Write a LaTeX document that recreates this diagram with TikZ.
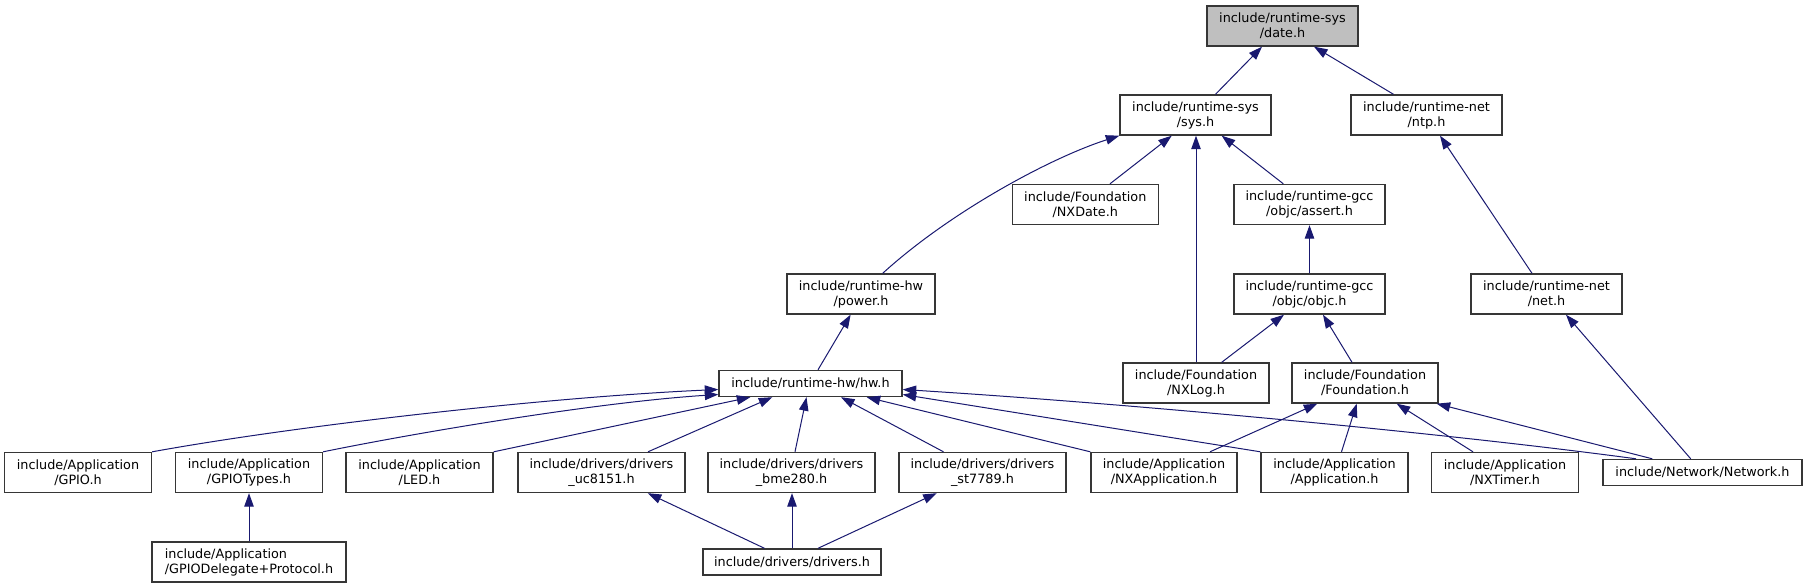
\documentclass[tikz,border=0pt]{standalone}
\usepackage{fontspec}
\setmainfont{DejaVu Sans}
\usetikzlibrary{arrows.meta}
\definecolor{bord}{HTML}{363636}
\definecolor{edgecol}{HTML}{191970}
\definecolor{rootfill}{HTML}{BFBFBF}
\newcommand{\nodefont}{\fontsize{12.8}{15}\selectfont}
\begin{document}
\begin{tikzpicture}[x=1pt,y=-1pt,
  nbox/.style={draw=bord, line width=1.4pt, fill=white, inner sep=0pt, align=center, font=\nodefont},
  twoline/.style={minimum height=40pt},
  oneline/.style={minimum height=26pt},
  rootbox/.style={fill=rootfill},
  link/.style={draw=edgecol, line width=1pt, -{Triangle[length=13.5pt,width=9.5pt]}}]
\fill[white] (0,0) rectangle (1807,588);
\useasboundingbox (0,0) rectangle (1807,588);
% rank 0
\node[nbox,twoline,rootbox,minimum width=151pt] (date) at (1282.5,26) {include/runtime-sys\\/date.h};
% rank 1
\node[nbox,twoline,minimum width=151pt] (sys) at (1195.5,115) {include/runtime-sys\\/sys.h};
\node[nbox,twoline,minimum width=151pt] (ntp) at (1426.5,115) {include/runtime-net\\/ntp.h};
% rank 2
\node[nbox,twoline,minimum width=146pt] (nxdate) at (1085.3,204.5) {include/Foundation\\/NXDate.h};
\node[nbox,twoline,minimum width=151pt] (assert) at (1309.5,204.5) {include/runtime-gcc\\/objc/assert.h};
% rank 3
\node[nbox,twoline,minimum width=148pt] (power) at (861,294) {include/runtime-hw\\/power.h};
\node[nbox,twoline,minimum width=151pt] (objc) at (1309.5,294) {include/runtime-gcc\\/objc/objc.h};
\node[nbox,twoline,minimum width=151pt] (net) at (1546.5,294) {include/runtime-net\\/net.h};
% rank 4
\node[nbox,oneline,minimum width=183pt] (hw) at (810.5,383.5) {include/runtime-hw/hw.h};
\node[nbox,twoline,minimum width=146pt] (nxlog) at (1196,383) {include/Foundation\\/NXLog.h};
\node[nbox,twoline,minimum width=146pt] (foundation) at (1365,383) {include/Foundation\\/Foundation.h};
% rank 5
\node[nbox,twoline,minimum width=147pt] (gpio) at (78,472.5) {include/Application\\/GPIO.h};
\node[nbox,twoline,minimum width=147pt] (gpiotypes) at (249,472.5) {include/Application\\/GPIOTypes.h};
\node[nbox,twoline,minimum width=147pt] (led) at (419.5,472.5) {include/Application\\/LED.h};
\node[nbox,twoline,minimum width=167pt] (uc) at (601.5,472.5) {include/drivers/drivers\\\_uc8151.h};
\node[nbox,twoline,minimum width=167pt] (bme) at (791.5,472.5) {include/drivers/drivers\\\_bme280.h};
\node[nbox,twoline,minimum width=167pt] (st) at (982.5,472.5) {include/drivers/drivers\\\_st7789.h};
\node[nbox,twoline,minimum width=146pt] (nxapp) at (1164,472.5) {include/Application\\/NXApplication.h};
\node[nbox,twoline,minimum width=147pt] (app) at (1334.5,472.5) {include/Application\\/Application.h};
\node[nbox,twoline,minimum width=147pt] (nxtimer) at (1505,472.5) {include/Application\\/NXTimer.h};
\node[nbox,oneline,minimum width=199pt] (network) at (1702.5,472.5) {include/Network/Network.h};
% rank 6
\node[nbox,twoline,minimum width=194pt,align=left] (gpiodel) at (249,562) {include/Application\\/GPIODelegate+Protocol.h};
\node[nbox,oneline,minimum width=178pt] (drivers) at (792,562) {include/drivers/drivers.h};
% edges
\draw[link] ([xshift=20pt]sys.north) -- ([xshift=-20.5pt]date.south);
\draw[link] ([xshift=-33pt]ntp.north) -- ([xshift=31.5pt]date.south);
\draw[link] ([xshift=21.7pt]power.north) .. controls (950,212) and (1050,158) .. (sys.south west);
\draw[link] ([xshift=24.7pt]nxdate.north) -- ([xshift=-23.8pt]sys.south);
\draw[link] (nxlog.north) -- (nxlog.north |- sys.south);
\draw[link] ([xshift=-26.2pt]assert.north) -- ([xshift=26.2pt]sys.south);
\draw[link] ([xshift=-14.5pt]net.north) -- ([xshift=13.5pt]ntp.south);
\draw[link] ([xshift=7.5pt]hw.north) -- ([xshift=-10.4pt]power.south);
\draw[link] (objc.north) -- (assert.south);
\draw[link] ([xshift=25.7pt]nxlog.north) -- ([xshift=-25.5pt]objc.south);
\draw[link] ([xshift=-13pt]foundation.north) -- ([xshift=13.5pt]objc.south);
\draw[link] ([xshift=-11.8pt]network.north) -- ([xshift=19.5pt]net.south);
% to hw
\draw[link] (gpio.north east) .. controls (300,425) and (550,397) .. ([yshift=-6pt]hw.west);
\draw[link] (gpiotypes.north east) .. controls (420,432) and (600,402) .. ([yshift=-11pt]hw.west);
\draw[link] (led.north east) -- ([xshift=32pt]hw.south west);
\draw[link] ([xshift=46.5pt]uc.north) -- ([xshift=54pt]hw.south west);
\draw[link] ([xshift=3.5pt]bme.north) -- ([xshift=-4pt]hw.south);
\draw[link] ([xshift=-39pt]st.north) -- ([xshift=30.5pt]hw.south);
\draw[link] (nxapp.north west) -- ([xshift=-36pt]hw.south east);
\draw[link] (app.north west) -- ([yshift=-11pt]hw.east);
\draw[link] ([xshift=33.7pt]network.north west) .. controls (1460,435) and (1150,405) .. ([yshift=-6pt]hw.east);
% to foundation
\draw[link] ([xshift=46pt]nxapp.north) -- ([xshift=26pt]foundation.south west);
\draw[link] ([xshift=7pt]app.north) -- ([xshift=-8.3pt]foundation.south);
\draw[link] ([xshift=-32pt]nxtimer.north) -- ([xshift=31.7pt]foundation.south);
\draw[link] ([xshift=50pt]network.north west) -- ([xshift=-2pt]foundation.south east);
% lower
\draw[link] (gpiodel.north) -- (gpiotypes.south);
\draw[link] ([xshift=-27.5pt]drivers.north) -- ([xshift=46.3pt]uc.south);
\draw[link] (drivers.north) -- (drivers.north |- bme.south);
\draw[link] ([xshift=26pt]drivers.north) -- ([xshift=-45.8pt]st.south);
\end{tikzpicture}
\end{document}
